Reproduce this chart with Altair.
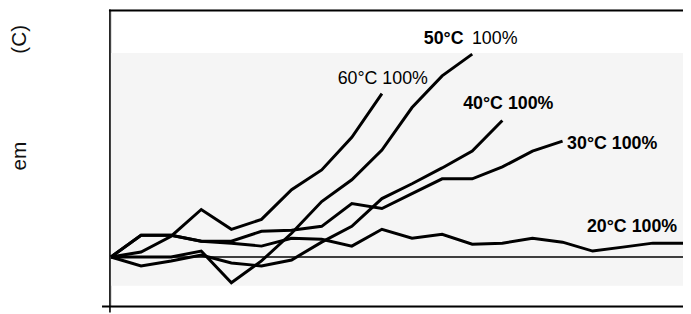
import altair as alt
import pandas as pd

# ---- data (units are arbitrary, baseline = 0) ----
s60 = [0.0, 0.5, 2.1, 4.8, 2.8, 3.8, 6.8, 8.8, 12.1, 16.5]
s50 = [0.0, 0.0, 0.0, 0.6, -2.6, -0.4, 2.4, 5.6, 7.8, 10.8, 15.1, 18.3, 20.5]
s40 = [0.0, -0.9, -0.4, 0.2, -0.6, -0.9, -0.3, 1.5, 3.1, 5.9, 7.4, 9.0, 10.7, 13.8]
s30 = [0.0, 2.2, 2.2, 1.6, 1.6, 2.6, 2.7, 3.1, 5.4, 4.9, 6.4, 7.9, 7.9, 9.1, 10.7, 11.7]
s20 = [0.0, 2.2, 2.2, 1.6, 1.4, 1.1, 1.9, 1.8, 1.1, 2.8, 1.9, 2.3, 1.3, 1.4, 1.9, 1.5, 0.6, 1.0, 1.4, 1.4]
series_names = ["60°C", "50°C", "40°C", "30°C", "20°C"]
series_vals = [s60, s50, s40, s30, s20]

band_low, band_high = -2.9, 20.6

label_text = ["60°C 100%", "40°C 100%", "30°C 100%", "20°C 100%"]
label_x = [7.53, 11.70, 15.15, 15.81]
label_y = [17.5, 15.0, 10.9, 2.5]
label_bold = ["normal", "bold", "bold", "bold"]
label50_parts = ["50°C", "100%"]
label50_x = [10.39, 11.99]
label50_y = [21.5, 21.5]

rows = []
for name, vals in zip(series_names, series_vals):
    for i, v in enumerate(vals):
        rows.append({"series": name, "t": i, "v": v})
df = pd.DataFrame(rows)

W, H = 578, 300
xs = alt.Scale(domain=[0, 19], nice=False, zero=False)
ys = alt.Scale(domain=[-5, 25], nice=False, zero=False)
X = lambda f: alt.X(f, type="quantitative", scale=xs, axis=None)
Y = lambda f: alt.Y(f, type="quantitative", scale=ys, axis=None)

band = alt.Chart(pd.DataFrame({"lo": [band_low], "hi": [band_high]})).mark_rect(
    color="#f5f5f5"
).encode(x=alt.value(0), x2=alt.value(W), y=Y("lo"), y2=alt.Y2("hi"))

base_line = alt.Chart(pd.DataFrame({"z": [0]})).mark_rule(
    color="#000", strokeWidth=1.7
).encode(y=Y("z"), x=alt.value(0), x2=alt.value(W))

lines = alt.Chart(df).mark_line(
    color="black", strokeWidth=3, strokeJoin="miter"
).encode(x=X("t"), y=Y("v"), detail="series:N")

frame_top = alt.Chart(pd.DataFrame({"a": [0]})).mark_rule(color="#000", strokeWidth=2).encode(
    x=alt.value(-2), x2=alt.value(W + 2), y=alt.value(1)
)
frame_left = alt.Chart(pd.DataFrame({"a": [0]})).mark_rule(color="#000", strokeWidth=1.6).encode(
    x=alt.value(-1), y=alt.value(0), y2=alt.value(H + 6)
)
frame_bottom = alt.Chart(pd.DataFrame({"a": [0]})).mark_rule(color="#000", strokeWidth=2).encode(
    x=alt.value(-9), x2=alt.value(W + 2), y=alt.value(H)
)

ldf = pd.DataFrame({"txt": label_text, "x": label_x, "y": label_y, "w": label_bold})
labels_bold = alt.Chart(ldf[ldf.w == "bold"]).mark_text(
    align="left", baseline="alphabetic", font="Liberation Sans", fontSize=18,
    fontWeight="bold", color="#000"
).encode(x=X("x"), y=Y("y"), text="txt:N")
labels_norm = alt.Chart(ldf[ldf.w == "normal"]).mark_text(
    align="left", baseline="alphabetic", font="Liberation Sans", fontSize=18,
    color="#000"
).encode(x=X("x"), y=Y("y"), text="txt:N")

l50 = pd.DataFrame({"txt": label50_parts, "x": label50_x, "y": label50_y})
lab50a = alt.Chart(l50.iloc[[0]]).mark_text(
    align="left", baseline="alphabetic", font="Liberation Sans", fontSize=18,
    fontWeight="bold", color="#000"
).encode(x=X("x"), y=Y("y"), text="txt:N")
lab50b = alt.Chart(l50.iloc[[1]]).mark_text(
    align="left", baseline="alphabetic", font="Liberation Sans", fontSize=18,
    color="#000"
).encode(x=X("x"), y=Y("y"), text="txt:N")

ytitle = pd.DataFrame({"txt": ["em", "(C)"], "py": [148, 30]})
ytxt = alt.Chart(ytitle).mark_text(
    angle=270, align="center", baseline="middle", font="Liberation Sans",
    fontSize=21, color="#111"
).encode(x=alt.value(-92), y=alt.Y("py:Q", scale=alt.Scale(domain=[0, H], range=[0, H]), axis=None), text="txt:N")

chart = alt.layer(
    band, base_line, lines, frame_top, frame_left, frame_bottom,
    labels_bold, labels_norm, lab50a, lab50b, ytxt
).resolve_scale(y="independent").properties(
    width=W, height=H,
    autosize=alt.AutoSizeParams(type="none"),
    padding={"left": 104, "top": 0, "right": 0, "bottom": 6},
).configure_view(stroke=None).configure(background="white")

chart.save("out.html", embed_options={"renderer": "svg", "actions": False})
